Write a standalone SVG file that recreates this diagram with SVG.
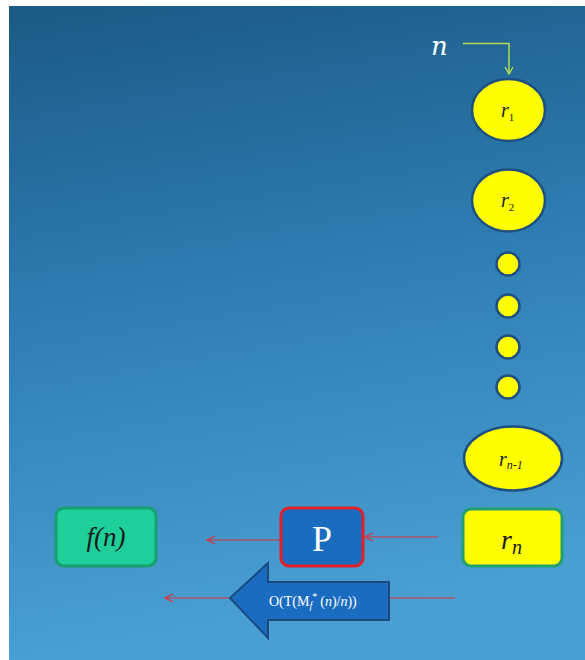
<svg xmlns="http://www.w3.org/2000/svg" width="585" height="660" viewBox="0 0 585 660">
<defs>
<linearGradient id="bg" x1="0" y1="0" x2="0.15" y2="1">
<stop offset="0" stop-color="#1b5a85"/>
<stop offset="0.5" stop-color="#2f7fb5"/>
<stop offset="1" stop-color="#4aa0d3"/>
</linearGradient>
<marker id="ah" viewBox="0 0 10 10" refX="9" refY="5" markerWidth="10" markerHeight="10" markerUnits="userSpaceOnUse" orient="auto">
<path d="M1,1 L9,5 L1,9" fill="none" stroke="#e0303a" stroke-width="1.2"/>
</marker>
<marker id="gh" viewBox="0 0 10 10" refX="5" refY="9" markerWidth="10" markerHeight="10" markerUnits="userSpaceOnUse" orient="0">
<path d="M1,2 L5,9 L9,2" fill="none" stroke="#b5dc52" stroke-width="1.4"/>
</marker>
</defs>
<style>
.ell{fill:#ffff00;stroke:#1d4f80;stroke-width:2.5}
.lbl{font-family:"Liberation Serif",serif;font-style:italic;fill:#1a1a1a}
.red{stroke:#e0303a;stroke-width:1.2;fill:none}
</style>
<rect x="0" y="0" width="585" height="660" fill="#ffffff"/>
<rect x="9" y="6" width="576" height="654" fill="url(#bg)"/>

<g id="n-input">
<text x="431" y="55" font-family="'DejaVu Serif','Liberation Serif',serif" font-style="italic" font-size="26" fill="#ffffff">n</text>
</g>

<g id="r1">
<ellipse class="ell" cx="508.5" cy="110" rx="36.5" ry="31"/>
<text class="lbl" x="501" y="117" font-size="20">r<tspan font-size="11" dy="4" font-style="normal">1</tspan></text>
</g>
<g id="r2">
<ellipse class="ell" cx="508.5" cy="200.5" rx="36.5" ry="31"/>
<text class="lbl" x="501" y="207" font-size="20">r<tspan font-size="11" dy="4" font-style="normal">2</tspan></text>
</g>
<g id="dots">
<circle class="ell" cx="508" cy="264" r="11.5"/>
<circle class="ell" cx="508" cy="306" r="11.5"/>
<circle class="ell" cx="508" cy="347" r="11.5"/>
<circle class="ell" cx="508" cy="387" r="11.5"/>
</g>
<g id="rn-1">
<ellipse class="ell" cx="513" cy="458.5" rx="49" ry="32"/>
<text class="lbl" x="499" y="466" font-size="20">r<tspan font-size="12" dy="3">n-1</tspan></text>
</g>
<g id="rn">
<rect x="463" y="509" width="99" height="57" rx="8" fill="#ffff00" stroke="#22a070" stroke-width="3"/>
<text class="lbl" x="501" y="549" font-size="28">r<tspan font-size="20" dy="5">n</tspan></text>
</g>
<g id="P">
<rect x="281" y="508" width="82" height="58" rx="8" fill="#1a6cc0" stroke="#e0202a" stroke-width="3"/>
<text x="322" y="551" text-anchor="middle" font-family="'Liberation Serif',serif" font-size="36" fill="#ffffff">P</text>
</g>
<g id="fn">
<rect x="56" y="508" width="100" height="58" rx="8" fill="#1ecf9a" stroke="#17a070" stroke-width="3"/>
<text class="lbl" x="106" y="546" text-anchor="middle" font-size="27">f(n)</text>
</g>
<g id="bigarrow">
<path d="M230,598 L268,563 L268,582 L389,582 L389,620 L268,620 L268,638 Z" fill="#1a6cc0" stroke="#1a4a80" stroke-width="2"/>
<text x="269" y="606" font-family="'Liberation Serif',serif" font-size="14" fill="#ffffff">O(T(M<tspan font-style="italic" font-size="10" dy="3">f</tspan><tspan font-size="10" dy="-9">*</tspan><tspan dy="6" dx="3">(</tspan><tspan font-style="italic">n</tspan>)/<tspan font-style="italic">n</tspan>))</text>
</g>

<g id="connectors">
<path d="M463,43.5 H509 V74" fill="none" stroke="#b5dc52" stroke-width="1.5" marker-end="url(#gh)"/>
<line class="red" x1="438" y1="537" x2="365" y2="537" marker-end="url(#ah)"/>
<line class="red" x1="280" y1="540" x2="207" y2="540" marker-end="url(#ah)"/>
<line class="red" x1="455" y1="598" x2="390" y2="598"/>
<line class="red" x1="229" y1="598" x2="165" y2="598" marker-end="url(#ah)"/>
</g>
</svg>
